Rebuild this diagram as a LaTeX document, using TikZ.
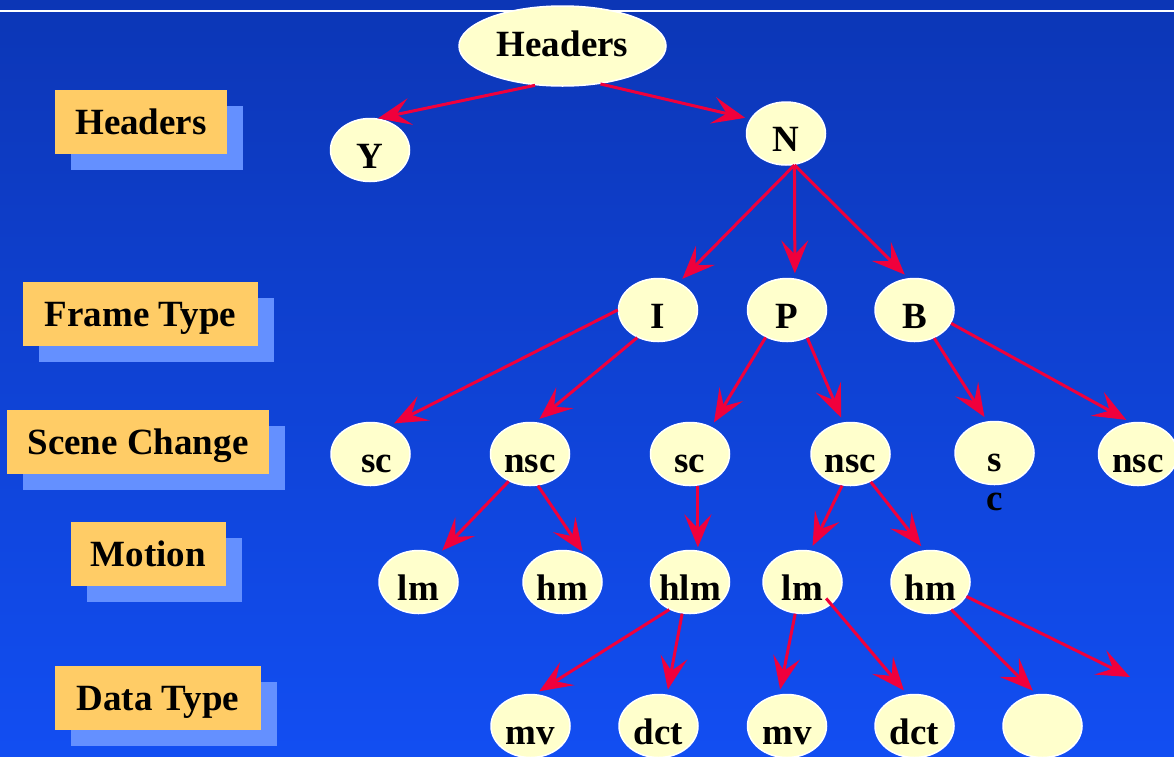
\documentclass[tikz,border=0pt]{standalone}
\usepackage{fontspec}
\setmainfont{Liberation Serif}
\usetikzlibrary{arrows.meta,shapes.geometric,shadows}
\definecolor{slidetop}{RGB}{12,54,182}
\definecolor{slidebot}{RGB}{18,78,242}
\definecolor{nodefill}{RGB}{255,255,204}
\definecolor{tagfill}{RGB}{255,204,102}
\definecolor{tagshadow}{RGB}{100,144,255}
\definecolor{arrowred}{RGB}{240,0,60}
\newcommand{\bigbf}{\fontsize{37}{40}\selectfont\bfseries}

\begin{document}
\begin{tikzpicture}[x=1pt,y=-1pt,
  tnode/.style={ellipse,fill=nodefill,draw=white,line width=1.5pt,
    minimum width=79pt,minimum height=63pt,inner sep=0pt,
    text height=36pt,text depth=0pt,font=\bigbf},
  rowtag/.style={rectangle,fill=tagfill,minimum height=64pt,inner sep=0pt,
    text height=25pt,text depth=0pt,font=\bigbf,
    general shadow={fill=tagshadow,shadow xshift=16pt,shadow yshift=-16pt}},
  arr/.style={-{Stealth[length=33pt 0,width=27pt 0,inset=14pt 0]},arrowred,
    line width=3pt,shorten >=5pt}]
  \useasboundingbox (0,0) rectangle (1174,756);
  \shade[top color=slidetop,bottom color=slidebot] (0,0) rectangle (1174,756);
  \draw[white,line width=1.5pt] (0,11) -- (1174,11);

  % row labels on the left
  \node[rowtag,minimum width=172pt] (tagHdr)   at (141,122)   {Headers};
  \node[rowtag,minimum width=235pt] (tagFrame) at (140.5,314) {Frame Type};
  \node[rowtag,minimum width=262pt] (tagScene) at (138,442)   {Scene Change};
  \node[rowtag,minimum width=155pt] (tagMot)   at (148.5,554) {Motion};
  \node[rowtag,minimum width=206pt] (tagData)  at (158,698)   {Data Type};

  % decision tree
  \node[tnode,minimum width=207pt,minimum height=80pt,text height=20pt] (hdr) at (562.5,46) {Headers};
  \node[tnode] (yes) at (370,150)   {Y};
  \node[tnode] (no)  at (786,133.5) {N};

  \node[tnode] (fI) at (658,310)   {I};
  \node[tnode] (fP) at (787,310)   {P};
  \node[tnode] (fB) at (914.5,310) {B};

  \node[tnode] (Isc)  at (370.5,454) {\hspace{13pt}sc};
  \node[tnode] (Insc) at (530,454)   {nsc};
  \node[tnode] (Psc)  at (690,454)   {sc\hspace{15pt}};
  \node[tnode] (Pnsc) at (850.5,454) {nsc};
  \node[tnode] (Bsc)  at (994.5,453) {s};
  \node[font=\bigbf,anchor=base] (Bscc) at (995,510) {c};
  \node[tnode] (Bnsc) at (1138,454)  {nsc};

  \node[tnode] (Ilm)  at (418.5,582) {lm};
  \node[tnode] (Ihm)  at (562.5,582) {hm};
  \node[tnode,inner xsep=-5pt] (Phlm) at (690,582) {hlm};
  \node[tnode] (Plm)  at (802.5,582) {lm};
  \node[tnode] (Phm)  at (930.5,582) {hm};

  \node[tnode] (mv1)   at (530.5,726)  {mv};
  \node[tnode] (dct1)  at (658.5,726)  {dct};
  \node[tnode] (mv2)   at (787,726)    {mv};
  \node[tnode] (dct2)  at (914.5,726)  {dct};
  \node[tnode] (blank) at (1042.5,726) {};
  \coordinate (hmout) at (1130,677);

  % branches
  \draw[arr,shorten >=0pt] (hdr.235) -- (yes.76);
  \draw[arr] (hdr.-45) -- (no.158);
  \draw[arr] (no.-75) -- (fI.53);
  \draw[arr] (no.-75) -- (fP.76);
  \draw[arr] (no.-75) -- (fB.101);
  \draw[arr] (fI.180) -- (Isc.56);
  \draw[arr] (fI.233) -- (Insc.80);
  \draw[arr] (fP.232) -- (Psc.52);
  \draw[arr] (fP.-54) -- (Pnsc.103);
  \draw[arr] (fB.-55) -- (Bsc.103);
  \draw[arr] (fB.-20) -- (Bnsc.103);
  \draw[arr] (Insc.232) -- (Ilm.54);
  \draw[arr,shorten >=4pt] (Insc.-76) -- (Ihm.50);
  \draw[arr,shorten >=3pt] (Psc.-76) -- (Phlm.76);
  \draw[arr] (Pnsc.255) -- (Plm.76);
  \draw[arr] (Pnsc.-54) -- (Phm.101);
  \draw[arr] (Phlm.233) -- (mv1.82);
  \draw[arr] (Phlm.256) -- (dct1.75);
  \draw[arr] (Plm.257) -- (mv2.104);
  \draw[arr,shorten <=-8pt] (Plm.-38) -- (dct2.103);
  \draw[arr] (Phm.-53) -- (blank.101);
  \draw[arr,shorten >=0pt] (Phm.-22) -- (hmout);
\end{tikzpicture}
\end{document}
